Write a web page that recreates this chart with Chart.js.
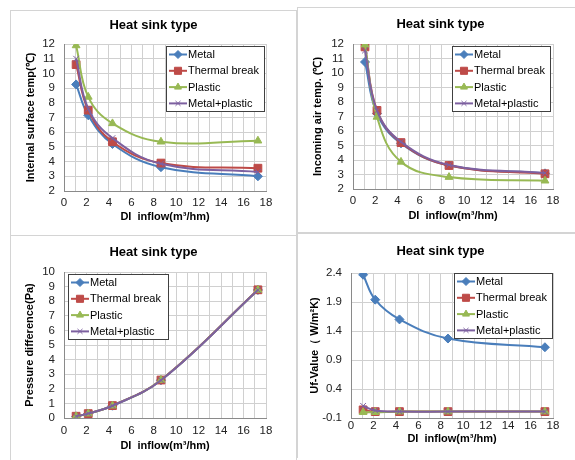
<!DOCTYPE html>
<html>
<head>
<meta charset="utf-8">
<script src="https://cdn.jsdelivr.net/npm/chart.js@4.4.1/dist/chart.umd.min.js"></script>
<style>
  html, body { margin: 0; padding: 0; background: #fff; overflow: hidden; }
  body { width: 575px; height: 460px; position: relative; }
  .panel { position: absolute; width: 285px; height: 224px; border: 1px solid #d4d4d4; background: #fff; }
  .panel canvas { position: absolute; left: 0; top: 0; }
  #p2, #p4 { border-right: none; }
  #p3, #p4 { border-bottom: none; }
</style>
</head>
<body>
<div class="panel" id="p1" style="left:10px; top:10px;"><canvas id="c1" width="285" height="224"></canvas></div>
<div class="panel" id="p2" style="left:297px; top:7px;"><canvas id="c2" width="285" height="224"></canvas></div>
<div class="panel" id="p3" style="left:10px; top:235px;"><canvas id="c3" width="285" height="224"></canvas></div>
<div class="panel" id="p4" style="left:297px; top:233px;"><canvas id="c4" width="285" height="224"></canvas></div>
<script>
// DI inflow (m3/hm) sample points
const flowX = [1.08, 2.16, 4.32, 8.64, 17.28];
const seriesNames = ['Metal', 'Thermal break', 'Plastic', 'Metal+plastic'];

// internal surface temp
const surfMetal = [9.25, 7.15, 5.2, 3.62, 3.0];
const surfThermal = [10.6, 7.5, 5.35, 3.9, 3.55];
const surfPlastic = [11.9, 8.4, 6.6, 5.35, 5.42];
const surfMixed = [11.0, 7.6, 5.6, 3.85, 3.3];

// incoming air temp
const airMetal = [10.76, 7.2, 5.15, 3.62, 3.08];
const airThermal = [11.8, 7.42, 5.2, 3.62, 3.05];
const airPlastic = [11.95, 6.97, 3.87, 2.82, 2.57];
const airMixed = [11.55, 7.4, 5.25, 3.66, 3.1];

// pressure difference
const presMetal = [0.11, 0.31, 0.84, 2.59, 8.77];
const presThermal = [0.12, 0.3, 0.85, 2.6, 8.78];
const presPlastic = [0.11, 0.3, 0.84, 2.6, 8.77];
const presMixed = [0.11, 0.31, 0.84, 2.59, 8.77];

// Uf value
const ufMetal = [2.37, 1.94, 1.6, 1.27, 1.12];
const ufThermal = [0.04, 0.01, 0.01, 0.01, 0.01];
const ufPlastic = [0.0, 0.0, 0.01, 0.01, 0.01];
const ufMixed = [0.11, 0.03, 0.01, 0.01, 0.01];

// tick labels
const xTicks = [0, 1, 2, 3, 4, 5, 6, 7, 8, 9, 10, 11, 12, 13, 14, 15, 16, 17, 18];
const tempTicks = [2, 3, 4, 5, 6, 7, 8, 9, 10, 11, 12];
const presTicks = [0, 1, 2, 3, 4, 5, 6, 7, 8, 9, 10];
const ufTicks = [-0.1, 0.4, 0.9, 1.4, 1.9, 2.4];

const colors = ['#4a7ebb', '#be4b48', '#98b954', '#7d60a0'];
const markers = ['rectRot', 'rect', 'triangle', 'crossRot'];
const radii = [4.5, 5.5, 4.5, 4];
const FONT = '"Liberation Sans", Arial, sans-serif';
const W = 285, H = 224;

// title centred on the whole panel, not only the plot
const panelTitle = {
  id: 'panelTitle',
  afterDraw(chart, args, opts) {
    const ctx = chart.ctx;
    ctx.save();
    ctx.font = 'bold 13px ' + FONT;
    ctx.fillStyle = '#000';
    ctx.textAlign = 'center';
    ctx.textBaseline = 'middle';
    ctx.fillText('Heat sink type', chart.width / 2, opts.y);
    ctx.restore();
  }
};

// legend drawn as a framed box inside the plot, like the excel one
const boxLegend = {
  id: 'boxLegend',
  afterDatasetsDraw(chart, args, opts) {
    const {ctx, chartArea} = chart;
    const w = opts.width, h = 65;
    const x = Math.round(opts.side === 'left' ? chartArea.left + opts.dx : chartArea.right - opts.dx - w);
    const y = Math.round(chartArea.top + opts.dy);
    ctx.save();
    ctx.fillStyle = '#fff';
    ctx.fillRect(x, y, w, h);
    ctx.strokeStyle = '#404040';
    ctx.lineWidth = 1;
    ctx.strokeRect(x + 0.5, y + 0.5, w, h);
    ctx.font = '11px ' + FONT;
    ctx.textBaseline = 'middle';
    chart.data.datasets.forEach((ds, i) => {
      const cy = y + 8.5 + i * 16.3;
      ctx.strokeStyle = ds.borderColor;
      ctx.fillStyle = ds.backgroundColor;
      ctx.lineWidth = 2;
      ctx.beginPath();
      ctx.moveTo(x + 3, cy);
      ctx.lineTo(x + 21, cy);
      ctx.stroke();
      ctx.lineWidth = 1;
      Chart.helpers.drawPoint(ctx, {pointStyle: ds.pointStyle, radius: ds.pointRadius - 0.5, borderWidth: 1, rotation: 0}, x + 12, cy);
      ctx.fillStyle = '#000';
      ctx.fillText(ds.label, x + 22, cy + 0.5);
    });
    ctx.restore();
  }
};

function makeChart(id, p) {
  const datasets = p.series.map((vals, i) => ({
    label: seriesNames[i],
    data: flowX.map((x, j) => ({x: x, y: vals[j]})),
    borderColor: colors[i],
    backgroundColor: colors[i],
    pointStyle: markers[i],
    pointRadius: radii[i],
    pointBorderWidth: 1,
    borderWidth: 2,
    tension: 0.4,
    order: 3 - i
  }));
  new Chart(document.getElementById(id), {
    type: 'line',
    data: { datasets: datasets },
    options: {
      responsive: false,
      animation: false,
      layout: { padding: { top: p.plot.top, left: 0, bottom: 0, right: W - p.plot.right } },
      plugins: {
        legend: { display: false },
        tooltip: { enabled: false },
        title: { display: false },
        panelTitle: { y: p.titleY },
        boxLegend: p.legend
      },
      scales: {
        x: {
          type: 'linear',
          min: 0, max: 18,
          afterBuildTicks: s => { s.ticks = xTicks.map(v => ({value: v})); },
          afterFit: s => { s.height = H - p.plot.bottom; },
          ticks: {
            autoSkip: false, maxRotation: 0, padding: p.xTickPad,
            color: '#222', font: { family: FONT, size: 11.5 },
            callback: v => (v % 2 === 0 ? String(v) : '')
          },
          grid: { color: '#d0d0d0', drawTicks: false },
          border: { color: '#8a8a8a' },
          title: {
            display: true, text: 'DI  inflow(m³/hm)', color: '#000',
            font: { family: FONT, size: 11, weight: 'bold' },
            padding: { top: 0, bottom: H - p.xTitleY - 6.6 }
          }
        },
        y: {
          min: p.yTicks[0], max: p.yTicks[p.yTicks.length - 1],
          afterBuildTicks: s => { s.ticks = p.yTicks.map(v => ({value: v})); },
          afterFit: s => { s.width = p.plot.left; },
          ticks: {
            autoSkip: false, padding: 9, color: '#222', font: { family: FONT, size: 11.5 },
            callback: v => p.fmt(v)
          },
          grid: { color: '#d0d0d0', drawTicks: false },
          border: { color: '#8a8a8a' },
          title: {
            display: true, text: p.yTitle, color: '#000',
            font: { family: FONT, size: 11, weight: 'bold' },
            padding: { top: p.yTitleX - 6.6, bottom: 0 }
          }
        }
      }
    },
    plugins: [boxLegend, panelTitle]
  });
}

makeChart('c1', {
  series: [surfMetal, surfThermal, surfPlastic, surfMixed],
  yTicks: tempTicks, fmt: v => String(v),
  yTitle: 'Internal surface temp(℃)',
  plot: { left: 53, top: 33, right: 255, bottom: 180 },
  titleY: 14, xTickPad: 5, xTitleY: 206, yTitleX: 20,
  legend: { side: 'right', dx: 2, dy: 2, width: 98 }
});

makeChart('c2', {
  series: [airMetal, airThermal, airPlastic, airMixed],
  yTicks: tempTicks, fmt: v => String(v),
  yTitle: 'Incoming air temp. (℃)',
  plot: { left: 55, top: 36, right: 255, bottom: 181 },
  titleY: 16, xTickPad: 5, xTitleY: 208, yTitleX: 20,
  legend: { side: 'right', dx: 3, dy: 2, width: 98 }
});

makeChart('c3', {
  series: [presMetal, presThermal, presPlastic, presMixed],
  yTicks: presTicks, fmt: v => String(v),
  yTitle: 'Pressure difference(Pa)',
  plot: { left: 53, top: 36, right: 255, bottom: 182 },
  titleY: 16, xTickPad: 6, xTitleY: 210, yTitleX: 19,
  legend: { side: 'left', dx: 4, dy: 2, width: 100 }
});

makeChart('c4', {
  series: [ufMetal, ufThermal, ufPlastic, ufMixed],
  yTicks: ufTicks, fmt: v => v.toFixed(1),
  yTitle: 'Uf-Value（ W/m²K)',
  plot: { left: 53, top: 39, right: 255, bottom: 184 },
  titleY: 17, xTickPad: 1, xTitleY: 205, yTitleX: 17,
  legend: { side: 'right', dx: 1, dy: 0, width: 98 }
});
</script>
</body>
</html>
